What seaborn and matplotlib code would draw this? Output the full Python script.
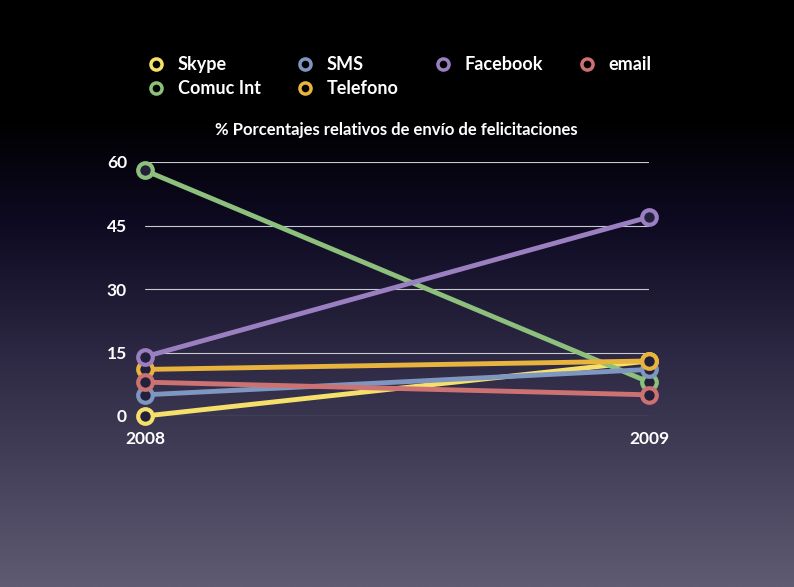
import numpy as np
import pandas as pd
import matplotlib.pyplot as plt
import seaborn as sns
from matplotlib.colors import LinearSegmentedColormap
from matplotlib.lines import Line2D

years = [2008, 2009]
series = ['Skype', 'Comuc Int', 'SMS', 'Telefono', 'Facebook', 'email']
skype = [0, 13]
comuc = [58, 8]
sms = [5, 11]
telefono = [11, 13]
facebook = [14, 47]
email = [8, 5]
colores = ['#f6e06c', '#8cc07c', '#7f97c0', '#e9b43e', '#9b80c1', '#cd7272']
yticks = [0, 15, 30, 45, 60]

sns.set_theme(style='white')
plt.rcParams['font.family'] = ['Lato', 'DejaVu Sans']

df = pd.DataFrame({
    'anio': years * 6,
    'valor': skype + comuc + sms + telefono + facebook + email,
    'serie': [s for s in series for _ in years],
})

fig = plt.figure(figsize=(7.94, 5.87), dpi=100)

# fondo degradado
bg = fig.add_axes([0, 0, 1, 1], zorder=-10)
cmap = LinearSegmentedColormap.from_list('fondo', [
    (0.0, '#000000'), (0.2, '#000000'), (0.38, '#0e0a22'),
    (0.6, '#2c2742'), (1.0, '#5f5b73')])
bg.imshow(np.linspace(0, 1, 256).reshape(-1, 1), aspect='auto', cmap=cmap,
          extent=[0, 1, 1, 0])
bg.axis('off')

ax = fig.add_axes([145 / 794, (587 - 416) / 587, 504 / 794, 254 / 587])
ax.patch.set_alpha(0)
for y in yticks:
    ax.axhline(y, color='#c8c8d0', lw=0.8, zorder=1)

paleta = dict(zip(series, colores))
sns.lineplot(data=df, x='anio', y='valor', hue='serie', palette=paleta,
             hue_order=series, lw=3.5, marker='o', markersize=10.5,
             markerfacecolor='#22203a', markeredgewidth=3, legend=False,
             ax=ax, zorder=3)
for line in ax.lines[len(yticks):]:
    line.set_markeredgecolor(line.get_color())
    line.set_clip_on(False)

ax.set_xlim(2008, 2009)
ax.set_ylim(0, 60)
ax.set_xticks(years)
ax.set_xticklabels([str(a) for a in years])
ax.set_yticks(yticks)
ax.tick_params(colors='white', labelsize=12.5, length=0)
ax.tick_params(axis='y', pad=13)
ax.tick_params(axis='x', pad=11)
for lab in ax.get_xticklabels() + ax.get_yticklabels():
    lab.set_fontweight('bold')
ax.set_xlabel('')
ax.set_ylabel('')
sns.despine(ax=ax, left=True, bottom=True)

fig.text(396 / 794, 1 - 130 / 587, '% Porcentajes relativos de envío de felicitaciones',
         color='white', fontsize=12, fontweight='bold', ha='center', va='center')

handles = [Line2D([], [], ls='none', marker='o', markersize=8, markeredgewidth=2.5,
                  markerfacecolor='black', markeredgecolor=c) for c in colores]
leg = fig.legend(handles, series, ncol=4, loc='upper left',
                 bbox_to_anchor=(129 / 794, 1 - 40 / 587), frameon=False,
                 fontsize=13, labelcolor='white', columnspacing=1.85,
                 handletextpad=0.6, labelspacing=0.4, handlelength=1.2)
for t in leg.get_texts():
    t.set_fontweight('bold')

fig.savefig('out.png', dpi=100)
